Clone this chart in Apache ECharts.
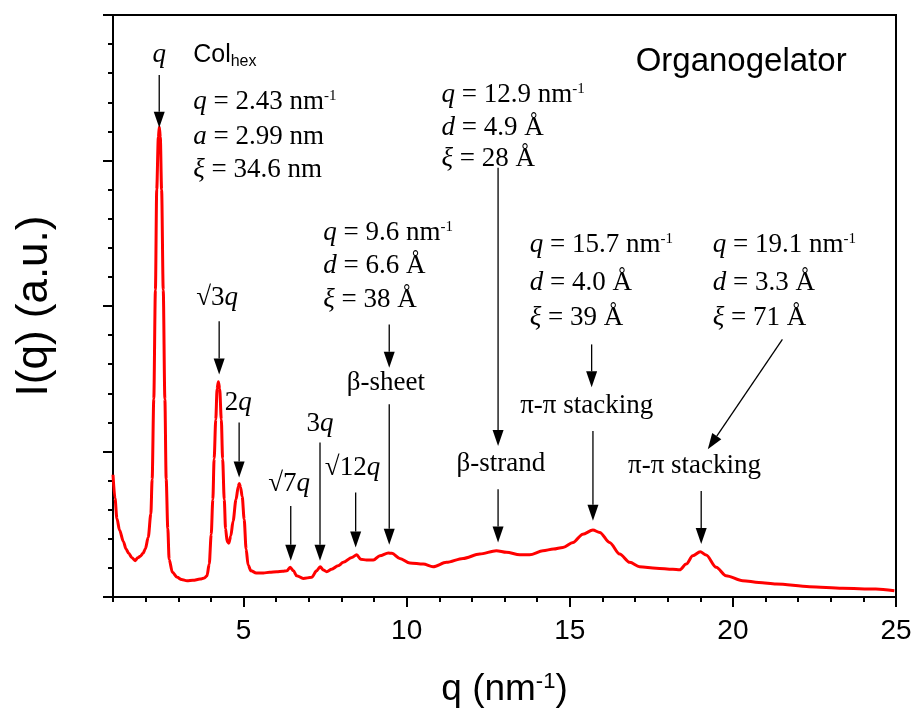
<!DOCTYPE html>
<html>
<head>
<meta charset="utf-8">
<script src="https://cdn.jsdelivr.net/npm/echarts@6/dist/echarts.min.js"></script>
<style>
  html, body { margin: 0; padding: 0; background: #fff; }
  #chart { width: 915px; height: 713px; }
</style>
</head>
<body>
<div id="chart"></div>
<script>
// scattering vector q (nm^-1) and intensity (a.u.)
const qValues = [
  1.00, 1.06, 1.12, 1.20, 1.32, 1.40, 1.48, 1.58, 1.68, 1.76, 1.84, 1.92, 1.99, 2.08, 2.16, 2.20,
  2.25, 2.30, 2.34, 2.39, 2.42, 2.45, 2.49, 2.54, 2.59, 2.63, 2.68, 2.72, 2.82, 2.97, 3.10, 3.27,
  3.45, 3.67, 3.80, 3.88, 3.95, 4.01, 4.06, 4.10, 4.15, 4.19, 4.23, 4.27, 4.32, 4.36, 4.41, 4.45,
  4.50, 4.55, 4.61, 4.68, 4.77, 4.84, 4.87, 4.91, 4.96, 5.02, 5.08, 5.14, 5.23, 5.39, 5.61, 5.80,
  6.02, 6.20, 6.33, 6.43, 6.53, 6.63, 6.83, 7.09, 7.24, 7.35, 7.45, 7.55, 7.70, 7.90, 8.06, 8.32,
  8.47, 8.59, 8.77, 8.98, 9.18, 9.44, 9.55, 9.79, 10.10, 10.51, 10.81, 11.22, 11.73, 12.24, 12.75, 13.06,
  13.47, 13.77, 14.18, 14.50, 14.79, 15.10, 15.40, 15.71, 15.92, 16.22, 16.53, 16.84, 17.14, 17.65, 18.16, 18.37,
  18.57, 18.77, 19.00, 19.18, 19.49, 19.79, 20.30, 20.80, 21.33, 22.35, 23.36, 24.38, 24.95
];
const intensity = [
  0.84, 0.68, 0.54, 0.46, 0.38, 0.33, 0.30, 0.27, 0.25, 0.27, 0.28, 0.30, 0.33, 0.41, 0.57, 0.81,
  1.36, 2.11, 2.80, 3.16, 3.23, 3.16, 2.80, 2.11, 1.36, 0.81, 0.47, 0.26, 0.17, 0.135, 0.12, 0.112,
  0.115, 0.123, 0.13, 0.146, 0.226, 0.43, 0.67, 0.95, 1.22, 1.43, 1.48, 1.43, 1.22, 0.95, 0.67, 0.47,
  0.38, 0.37, 0.42, 0.52, 0.67, 0.76, 0.78, 0.755, 0.69, 0.535, 0.33, 0.22, 0.18, 0.165, 0.165, 0.17,
  0.174, 0.177, 0.18, 0.205, 0.18, 0.146, 0.128, 0.135, 0.18, 0.208, 0.185, 0.174, 0.19, 0.215, 0.238, 0.272,
  0.29, 0.26, 0.254, 0.254, 0.283, 0.302, 0.30, 0.265, 0.233, 0.226, 0.208, 0.238, 0.265, 0.295, 0.318, 0.307,
  0.29, 0.29, 0.318, 0.33, 0.341, 0.375, 0.432, 0.46, 0.444, 0.375, 0.295, 0.238, 0.208, 0.197, 0.19, 0.187,
  0.226, 0.283, 0.311, 0.288, 0.204, 0.146, 0.112, 0.10, 0.089, 0.071, 0.06, 0.055, 0.043
];
const xMajorTicks = [5, 10, 15, 20, 25];

// annotation texts: [text, q, I, align]
const annotations = [
  ['{i|q}', 2.417, 3.726, 'center'],
  ['{i|q} = 2.43 nm{s|-1}', 3.458, 3.405, 'left'],
  ['{i|a} = 2.99 nm', 3.458, 3.165, 'left'],
  ['{i|ξ} = 34.6 nm', 3.458, 2.937, 'left'],
  ['{i|q} = 12.9 nm{s|-1}', 11.07, 3.451, 'left'],
  ['{i|d} = 4.9 Å', 11.07, 3.225, 'left'],
  ['{i|ξ} = 28 Å', 11.07, 3.012, 'left'],
  ['{i|q} = 9.6 nm{s|-1}', 7.446, 2.502, 'left'],
  ['{i|d} = 6.6 Å', 7.446, 2.273, 'left'],
  ['{i|ξ} = 38 Å', 7.446, 2.045, 'left'],
  ['{i|q} = 15.7 nm{s|-1}', 13.773, 2.422, 'left'],
  ['{i|d} = 4.0 Å', 13.773, 2.159, 'left'],
  ['{i|ξ} = 39 Å', 13.773, 1.919, 'left'],
  ['{i|q} = 19.1 nm{s|-1}', 19.384, 2.422, 'left'],
  ['{i|d} = 3.3 Å', 19.384, 2.159, 'left'],
  ['{i|ξ} = 71 Å', 19.384, 1.919, 'left'],
  ['√3{i|q}', 4.193, 2.056, 'center'],
  ['2{i|q}', 4.836, 1.336, 'center'],
  ['3{i|q}', 7.346, 1.187, 'center'],
  ['√12{i|q}', 8.340, 0.890, 'center'],
  ['√7{i|q}', 6.396, 0.775, 'center'],
  ['β-sheet', 9.366, 1.473, 'center'],
  ['β-strand', 12.886, 0.913, 'center'],
  ['π-π stacking', 15.518, 1.313, 'center'],
  ['π-π stacking', 18.824, 0.901, 'center']
];

// arrows: [qFrom, IFrom, qTo, ITo]
const arrows = [
  [2.417, 3.588, 2.417, 3.225],
  [4.254, 1.896, 4.254, 1.530],
  [4.866, 1.199, 4.866, 0.821],
  [6.448, 0.626, 6.448, 0.249],
  [7.345, 1.061, 7.345, 0.249],
  [8.438, 0.718, 8.438, 0.341],
  [9.467, 1.873, 9.467, 1.576],
  [9.467, 1.324, 9.467, 0.359],
  [12.803, 2.950, 12.803, 1.038],
  [12.803, 0.741, 12.803, 0.375],
  [15.671, 1.736, 15.671, 1.441],
  [15.711, 1.141, 15.711, 0.524],
  [21.518, 1.770, 19.231, 1.015],
  [19.029, 0.729, 19.029, 0.364]
];

const sans = '"Liberation Sans", Arial, sans-serif';
const serif = '"Liberation Serif", "Times New Roman", serif';

const chart = echarts.init(document.getElementById('chart'));

const option = {
  animation: false,
  backgroundColor: '#fff',
  grid: {
    left: 113,
    right: 19,
    top: 15,
    bottom: 115,
    show: true,
    borderColor: '#000',
    borderWidth: 2,
    containLabel: false
  },
  xAxis: [
    {
      type: 'value',
      min: 1,
      max: 25,
      interval: 1,
      position: 'bottom',
      axisLine: { lineStyle: { color: '#000', width: 2 } },
      axisTick: { inside: false, length: 5, lineStyle: { color: '#000', width: 2 } },
      axisLabel: { show: false },
      splitLine: { show: false }
    },
    {
      type: 'value',
      min: 1,
      max: 25,
      position: 'bottom',
      axisLine: { lineStyle: { color: '#000', width: 2 } },
      axisTick: { inside: false, length: 10, customValues: xMajorTicks, lineStyle: { color: '#000', width: 2 } },
      axisLabel: {
        customValues: xMajorTicks,
        margin: 20,
        color: '#000',
        fontSize: 28,
        fontFamily: sans
      },
      splitLine: { show: false },
      name: 'q (nm{s|-1})',
      nameLocation: 'middle',
      nameGap: 74,
      nameTextStyle: {
        color: '#000',
        fontSize: 37,
        fontFamily: sans,
        rich: {
          s: { fontSize: 22, fontFamily: sans, color: '#000', verticalAlign: 'top', padding: [0, 0, 14, 0] }
        }
      }
    }
  ],
  yAxis: {
    type: 'value',
    min: 0,
    max: 4,
    interval: 1,
    axisLine: { lineStyle: { color: '#000', width: 2 } },
    axisTick: { inside: false, length: 10, lineStyle: { color: '#000', width: 2 } },
    minorTick: { show: true, splitNumber: 5, length: 5, lineStyle: { color: '#000', width: 2 } },
    axisLabel: { show: false },
    splitLine: { show: false },
    name: 'I(q) (a.u.)',
    nameLocation: 'middle',
    nameRotate: 90,
    nameGap: 56,
    nameTextStyle: { color: '#000', fontSize: 44, fontFamily: sans }
  },
  series: [
    {
      type: 'line',
      xAxisIndex: 0,
      data: qValues.map((q, i) => [q, intensity[i]]),
      showSymbol: false,
      smooth: 0.3,
      smoothMonotone: 'x',
      lineStyle: { color: '#ff0000', width: 3 },
      z: 3
    }
  ]
};

chart.setOption(option);

// build annotations from data coordinates
const px = (q, v) => chart.convertToPixel({ seriesIndex: 0 }, [q, v]);
const richStyles = {
  i: { fontStyle: 'italic', fontFamily: serif, fontSize: 27, fill: '#000' },
  s: { fontFamily: serif, fontSize: 15, fill: '#000', verticalAlign: 'top', padding: [0, 0, 12, 0] }
};
const graphics = [];

annotations.forEach(([text, q, v, align]) => {
  const p = px(q, v);
  graphics.push({
    type: 'text',
    x: p[0],
    y: p[1],
    z: 10,
    style: {
      text: text,
      fill: '#000',
      fontFamily: serif,
      fontSize: 27,
      align: align,
      verticalAlign: 'middle',
      rich: richStyles
    }
  });
});

arrows.forEach(([q1, v1, q2, v2]) => {
  const a = px(q1, v1);
  const b = px(q2, v2);
  const dx = b[0] - a[0];
  const dy = b[1] - a[1];
  const len = Math.sqrt(dx * dx + dy * dy);
  const ux = dx / len, uy = dy / len;
  const headLen = 16, headW = 5.5;
  const base = [b[0] - ux * headLen, b[1] - uy * headLen];
  graphics.push({
    type: 'line',
    z: 10,
    shape: { x1: a[0], y1: a[1], x2: base[0], y2: base[1] },
    style: { stroke: '#000', lineWidth: 1.3 }
  });
  graphics.push({
    type: 'polygon',
    z: 10,
    shape: {
      points: [
        [b[0], b[1]],
        [base[0] - uy * headW, base[1] + ux * headW],
        [base[0] + uy * headW, base[1] - ux * headW]
      ]
    },
    style: { fill: '#000' }
  });
});

// Col_hex header and sample name (sans-serif)
const colPos = px(3.458, 3.726);
graphics.push({
  type: 'text',
  x: colPos[0],
  y: colPos[1],
  z: 10,
  style: {
    text: 'Col{b|hex}',
    fill: '#000',
    fontFamily: sans,
    fontSize: 25,
    align: 'left',
    verticalAlign: 'middle',
    rich: { b: { fontFamily: sans, fontSize: 16, fill: '#000', verticalAlign: 'bottom', padding: [14, 0, 0, 0] } }
  }
});
const orgPos = px(20.253, 3.678);
graphics.push({
  type: 'text',
  x: orgPos[0],
  y: orgPos[1],
  z: 10,
  style: {
    text: 'Organogelator',
    fill: '#000',
    fontFamily: sans,
    fontSize: 33,
    align: 'center',
    verticalAlign: 'middle'
  }
});

chart.setOption({ graphic: graphics });
</script>
</body>
</html>
